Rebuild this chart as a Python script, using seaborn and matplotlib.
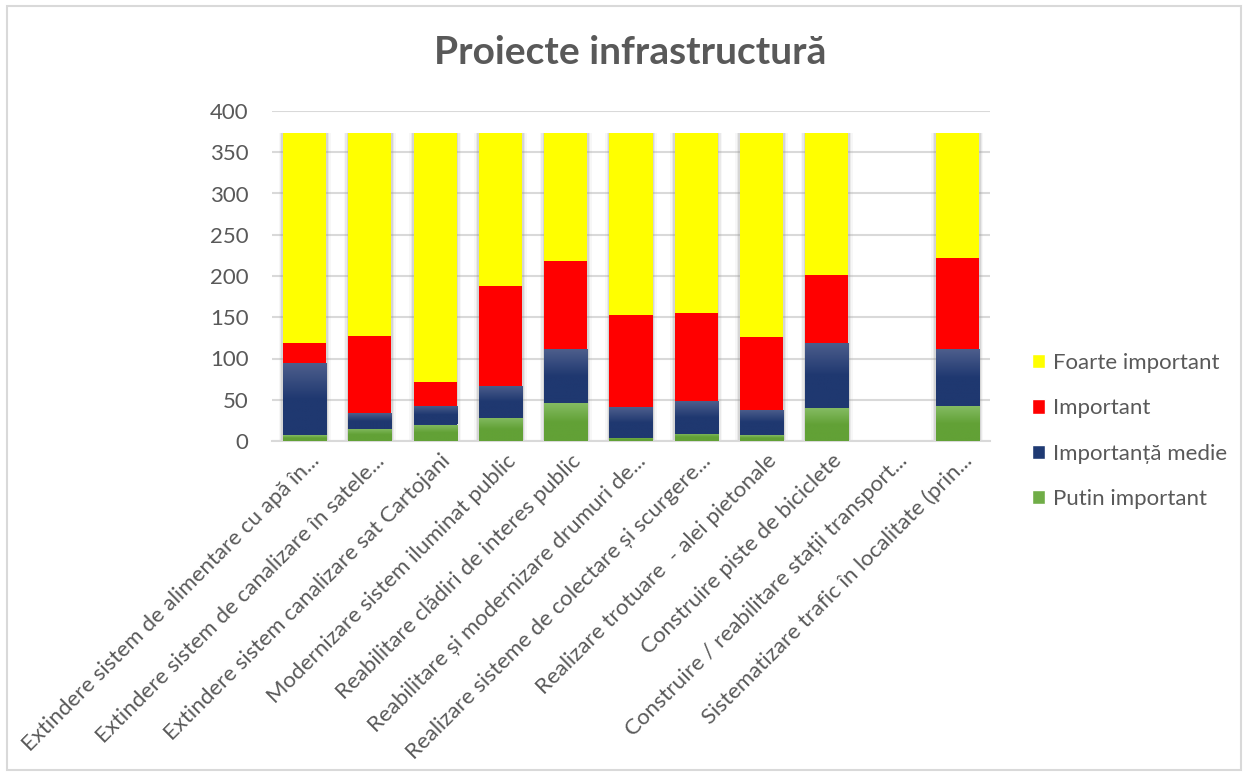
import numpy as np
import pandas as pd
import matplotlib
matplotlib.use('Agg')
import matplotlib.pyplot as plt
import matplotlib.transforms as mtransforms
from matplotlib.patches import Rectangle, Patch
import seaborn as sns

proiecte = [
    'Extindere sistem de alimentare cu apă în...',
    'Extindere sistem de canalizare în satele...',
    'Extindere sistem canalizare sat Cartojani',
    'Modernizare sistem iluminat public',
    'Reabilitare clădiri de interes public',
    'Reabilitare și modernizare drumuri de...',
    'Realizare sisteme de colectare și scurgere...',
    'Realizare trotuare  - alei pietonale',
    'Construire piste de biciclete',
    'Construire / reabilitare stații transport...',
    'Sistematizare trafic în localitate (prin...',
]
putin_important = [7, 15, 20, 28, 46, 4, 9, 7, 40, 0, 42]
importanta_medie = [87, 19, 23, 39, 65, 37, 39, 31, 79, 0, 69]
important = [25, 93, 29, 121, 107, 112, 107, 88, 82, 0, 111]
foarte_important = [254, 246, 301, 185, 155, 220, 218, 247, 172, 0, 151]

serii = ['Putin important', 'Importanță medie', 'Important', 'Foarte important']
culori = {'Putin important': '#70ad47', 'Importanță medie': '#1f3a73',
          'Important': '#ff0000', 'Foarte important': '#ffff00'}
gradient = {'Putin important': ('#84bb62', '#62a136'),
            'Importanță medie': ('#4d5e8c', '#1f3870')}

text_col = '#595959'
grid_col = '#d9d9d9'

df = pd.DataFrame({'proiect': proiecte,
                   'Putin important': putin_important,
                   'Importanță medie': importanta_medie,
                   'Important': important,
                   'Foarte important': foarte_important})
cum = df[serii].cumsum(axis=1)
cum['proiect'] = df['proiect']

sns.set_style('white')
plt.rcParams['font.family'] = ['Lato', 'DejaVu Sans']

fig = plt.figure(figsize=(12.48, 7.76), dpi=100)
ax = fig.add_axes([272 / 1248, 1 - 441 / 776, 718 / 1248, 330 / 776])

# soft shadow around the bars
for w, a in [(0.80, 0.08), (0.75, 0.14), (0.71, 0.25)]:
    sns.barplot(x='proiect', y='Foarte important', data=cum, color='#9a9a9a',
                width=w, alpha=a, linewidth=0, saturation=1, ax=ax, zorder=2)

bar_w = 0.66
conts = {}
for s in reversed(serii):
    sns.barplot(x='proiect', y=s, data=cum, color=culori[s], width=bar_w,
                linewidth=0, saturation=1, ax=ax, zorder=3)
    conts[s] = ax.containers[-1]

# vertical gradient on the green and blue segments
def add_gradient(patch, bottom, c_top, c_bot):
    x0 = patch.get_x()
    w = patch.get_width()
    top = patch.get_height()
    if top - bottom <= 0:
        return
    cmap = matplotlib.colors.LinearSegmentedColormap.from_list('g', [c_bot, c_bot, c_top])
    grad = np.linspace(0, 1, 64).reshape(-1, 1)
    im = ax.imshow(grad, cmap=cmap, extent=(x0, x0 + w, bottom, top), origin='lower',
                   aspect='auto', zorder=3.5)
    im.set_clip_path(Rectangle((x0, bottom), w, top - bottom, transform=ax.transData))

for i, p in enumerate(conts['Importanță medie'].patches):
    add_gradient(p, putin_important[i], *gradient['Importanță medie'])
for i, p in enumerate(conts['Putin important'].patches):
    add_gradient(p, 0, *gradient['Putin important'])

ax.set_xlim(-0.5, len(proiecte) - 0.5)
ax.set_ylim(0, 400)
ax.set_yticks(range(0, 401, 50))
ax.yaxis.grid(True, color=grid_col, linewidth=1.5, zorder=0)
ax.set_axisbelow(True)
for sp in ['top', 'right', 'left']:
    ax.spines[sp].set_visible(False)
ax.spines['bottom'].set_color(grid_col)
ax.spines['bottom'].set_linewidth(1.5)
ax.set_xlabel('')
ax.set_ylabel('')
ax.tick_params(axis='both', length=0, labelcolor=text_col, labelsize=16)
ax.tick_params(axis='y', pad=17)
ax.tick_params(axis='x', pad=12)

offset = mtransforms.ScaledTranslation(12 / 100, 0, fig.dpi_scale_trans)
for lab in ax.get_xticklabels():
    lab.set_rotation(45)
    lab.set_ha('right')
    lab.set_va('center')
    lab.set_rotation_mode('anchor')
    lab.set_transform(lab.get_transform() + offset)

fig.text(630 / 1248, 1 - 52 / 776, 'Proiecte infrastructură', ha='center', va='center',
         fontsize=28, fontweight='bold', color=text_col)

handles = [Patch(facecolor=culori[s], label=s) for s in reversed(serii)]
fig.legend(handles=handles, loc='center left', bbox_to_anchor=(1012 / 1248, 1 - 431 / 776),
           frameon=False, fontsize=16, labelcolor=text_col, handlelength=0.6,
           handleheight=0.6, handletextpad=0.35, labelspacing=1.14)

fig.add_artist(Rectangle((7 / 1248, 6 / 776), 1 - 14 / 1248, 1 - 12 / 776,
                         transform=fig.transFigure, fill=False, edgecolor=grid_col,
                         linewidth=1.5))

fig.savefig('out.png', dpi=100)
